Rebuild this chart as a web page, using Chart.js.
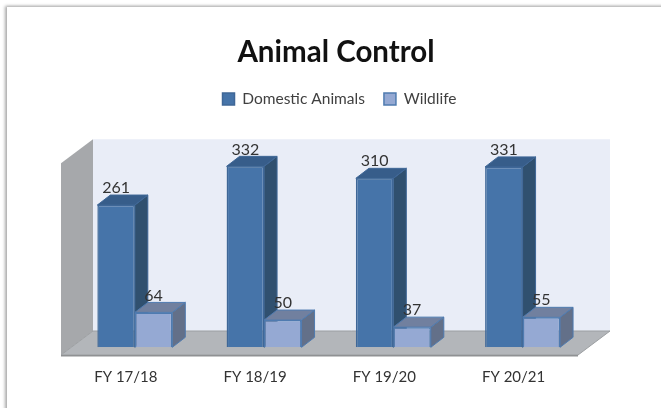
<!DOCTYPE html>
<html>
<head>
<meta charset="utf-8">
<script src="https://cdn.jsdelivr.net/npm/chart.js@4"></script>
<style>
  html, body { margin: 0; background: #fff; overflow: hidden; }
  #frame { position: absolute; left: 7px; top: 7px; width: 700px; height: 450px; background: #fff;
           box-shadow: -1px 0 3px 1px #aaa, 0 -1px 2px #e4e4e4; }
  #animalChart { position: absolute; left: 0; top: 0; filter: blur(0.4px); }
</style>
</head>
<body>
<div id="frame"></div>
<canvas id="animalChart" width="661" height="408"></canvas>
<script>
const categories = ['FY 17/18', 'FY 18/19', 'FY 19/20', 'FY 20/21'];
const domesticAnimals = [261, 332, 310, 331];
const wildlife = [64, 50, 37, 55];
const yMax = 423;
const wallTopValue = 352;

const FONT = 'Lato, Carlito, sans-serif';
// 3d look: bar depth and box depth in pixels
const barDepth = { x: 13, y: 10 };
const boxDepth = { x: 32, y: 24 };
const frontShift = { x: 9.2, y: 7.7 };

const faces = [
    { side: '#30506f', top: '#375d8a', edge: '#3f6797' },
    { side: '#637089', top: '#71809f', edge: '#4f7bb0' }
];

function poly(ctx, pts, fill, stroke) {
    ctx.beginPath();
    pts.forEach((p, i) => i ? ctx.lineTo(p[0], p[1]) : ctx.moveTo(p[0], p[1]));
    ctx.closePath();
    ctx.fillStyle = fill;
    ctx.fill();
    if (stroke) {
        ctx.strokeStyle = stroke;
        ctx.lineWidth = 1;
        ctx.stroke();
    }
}

const box3d = {
    id: 'box3d',
    afterLayout(chart) {
        // legend sits a little right of the title in the original
        chart.legend.left += 3.5;
        chart.legend.right += 3.5;
    },
    beforeDatasetsDraw(chart) {
        const { ctx, chartArea, scales } = chart;
        const y0 = scales.y.getPixelForValue(0) + frontShift.y;
        const yTop = scales.y.getPixelForValue(wallTopValue) + frontShift.y;
        const xL = chartArea.left - frontShift.x;
        const xR = chartArea.right - frontShift.x;
        const dx = boxDepth.x, dy = boxDepth.y;
        // back wall
        poly(ctx, [[xL + dx, yTop - dy], [xR + dx, yTop - dy], [xR + dx, y0 - dy], [xL + dx, y0 - dy]], '#e9edf7');
        // left wall
        poly(ctx, [[xL, yTop], [xL + dx, yTop - dy], [xL + dx, y0 - dy], [xL, y0]], '#a6a8ab');
        // floor
        poly(ctx, [[xL, y0], [xL + dx, y0 - dy], [xR + dx, y0 - dy], [xR, y0]], '#b3b6ba', '#9b9ea1');
        ctx.fillStyle = '#8f9193';
        ctx.fillRect(xL, y0, xR - xL, 1.5);

        // side and top faces of the bars, the library then paints the fronts over them
        chart.data.datasets.forEach((ds, i) => {
            const c = faces[i];
            chart.getDatasetMeta(i).data.forEach(bar => {
                const l = bar.x - bar.width / 2, r = bar.x + bar.width / 2;
                const t = bar.y, b = bar.base;
                const bx = barDepth.x, by = barDepth.y;
                poly(ctx, [[r, t], [r + bx, t - by], [r + bx, b - by], [r, b]], c.side, c.edge);
                poly(ctx, [[l, t], [l + bx, t - by], [r + bx, t - by], [r, t]], c.top, c.edge);
            });
        });
    },
    afterDatasetsDraw(chart) {
        const ctx = chart.ctx;
        ctx.save();
        ctx.font = '16px ' + FONT;
        ctx.fillStyle = '#333';
        ctx.textAlign = 'center';
        ctx.textBaseline = 'middle';
        chart.data.datasets.forEach((ds, i) => {
            chart.getDatasetMeta(i).data.forEach((bar, j) => {
                ctx.fillText(ds.data[j], bar.x, bar.y - 17);
            });
        });
        ctx.restore();
    }
};

new Chart(document.getElementById('animalChart'), {
    type: 'bar',
    data: {
        labels: categories,
        datasets: [
            { label: 'Domestic Animals', data: domesticAnimals, backgroundColor: '#4674a9', borderColor: '#3f6797', borderWidth: 1.5, barPercentage: 1, categoryPercentage: 0.58 },
            { label: 'Wildlife', data: wildlife, backgroundColor: '#95a9d3', borderColor: '#4f7bb0', borderWidth: 1.5, barPercentage: 1, categoryPercentage: 0.58 }
        ]
    },
    options: {
        responsive: false,
        animation: false,
        layout: { padding: { left: 15, right: 4, top: 0, bottom: 0 } },
        plugins: {
            tooltip: { enabled: false },
            title: {
                display: true,
                text: 'Animal Control',
                color: '#111',
                font: { family: FONT, size: 29.5, weight: 'bold' },
                padding: { top: 34.3, bottom: 2.55 }
            },
            legend: {
                position: 'top',
                labels: {
                    boxWidth: 12,
                    boxHeight: 12,
                    padding: 19,
                    color: '#404040',
                    font: { family: FONT, size: 15.5 }
                }
            }
        },
        scales: {
            x: {
                grid: { display: false, drawTicks: false },
                border: { display: false },
                ticks: { padding: 21.35, labelOffset: -9, color: '#333', maxRotation: 0, font: { family: FONT, size: 15 } }
            },
            y: {
                min: 0,
                max: yMax,
                grid: { display: false },
                border: { display: false },
                ticks: { display: false },
                afterFit(scale) { scale.width = 55.2; }
            },
            // empty axis, only keeps the plot clear of the right side
            y2: {
                position: 'right',
                grid: { display: false },
                border: { display: false },
                ticks: { display: false },
                afterFit(scale) { scale.width = 69.8; }
            }
        }
    },
    plugins: [box3d]
});
</script>
</body>
</html>
